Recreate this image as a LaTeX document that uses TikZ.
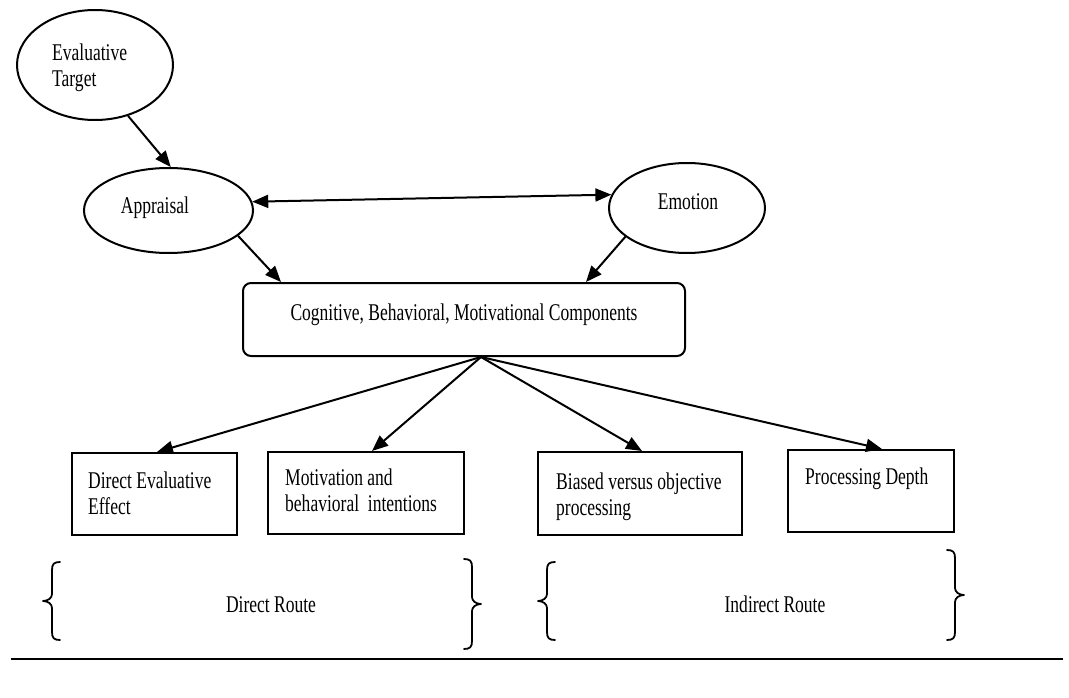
\documentclass[tikz,border=0pt]{standalone}
\usepackage{fontspec}
\setmainfont[FakeStretch=0.73]{Liberation Serif}
\usetikzlibrary{shapes.geometric,arrows.meta,calc}
\begin{document}
\begin{tikzpicture}[x=1pt,y=-1pt,
  ell/.style={ellipse,draw,line width=2pt,inner sep=0pt},
  rbox/.style={rectangle,draw,line width=2pt,inner sep=0pt},
  txt/.style={inner sep=0pt,font=\fontsize{24}{26}\selectfont,align=left},
  arr/.style={line width=2pt,-{Triangle[length=16pt,width=13pt]}},
  darr/.style={line width=2pt,{Triangle[length=16pt,width=13pt]}-{Triangle[length=16pt,width=13pt]}},
  brc/.style={line width=1.8pt,line cap=round,line join=round}]
\useasboundingbox (0,0) rectangle (1069,698);

% ellipses
\node[ell,minimum width=156pt,minimum height=110pt] (et) at (95,65) {};
\node[txt,anchor=north west] (etl) at (52,44) {Evaluative\\Target};
\node[ell,minimum width=169pt,minimum height=85pt] (ap) at (168.5,210.5) {};
\node[txt,anchor=base] (apl) at (155,214) {Appraisal};
\node[ell,minimum width=156pt,minimum height=90pt] (em) at (687,208) {};
\node[txt,anchor=base] (eml) at (688,209) {Emotion};

% main box
\node[rbox,rounded corners=8pt,minimum width=442pt,minimum height=73pt] (cb) at (464,319.5) {};
\node[txt,anchor=base] (cbl) at (464,320) {Cognitive, Behavioral, Motivational Components};

% outcome boxes
\node[rbox,minimum width=165pt,minimum height=82pt] (b1) at (154.5,494) {};
\node[txt,anchor=north west] (b1l) at (88,472) {Direct Evaluative\\Effect};
\node[rbox,minimum width=196pt,minimum height=82pt] (b2) at (366,493) {};
\node[txt,anchor=north west] (b2l) at (285,469) {Motivation and\\behavioral~ intentions};
\node[rbox,minimum width=204pt,minimum height=83pt] (b3) at (640,493.5) {};
\node[txt,anchor=north west] (b3l) at (556,473) {Biased versus objective\\processing};
\node[rbox,minimum width=166pt,minimum height=82pt] (b4) at (871,491) {};
\node[txt,anchor=north west] (b4l) at (805,468) {Processing Depth};

% connectors
\draw[arr] (et.-57) -- (ap.87);
\draw[darr] (ap.6) -- (em.170);
\draw[arr] (ap.-20) -- ($(cb.north west)+(39,0)$);
\draw[arr] (em.205) -- ($(cb.north east)+(-100,0)$);
\coordinate (hub) at ($(cb.south)+(17,0)$);
\draw[arr] (hub) -- ($(b1.north)+(2.5,0)$);
\draw[arr] (hub) -- ($(b2.north)+(6,0)$);
\draw[arr] (hub) -- ($(b3.north)+(2,0)$);
\draw[arr] (hub) -- ($(b4.north)+(11,0)$);

% routes
\node[txt,anchor=base] (dr) at (271,612) {Direct Route};
\node[txt,anchor=base] (ir) at (775,612) {Indirect Route};

\draw[brc] (60,562) .. controls (54,562) and (52,564) .. (52,570) -- (52,594) .. controls (52,598) and (48,601) .. (43,601) .. controls (48,601) and (52,604) .. (52,608) -- (52,632) .. controls (52,638) and (54,640) .. (60,640);
\draw[brc] (464,559) .. controls (470,559) and (472,561) .. (472,567) -- (472,597) .. controls (472,601) and (476,604) .. (481,604) .. controls (476,604) and (472,607) .. (472,611) -- (472,641) .. controls (472,647) and (470,649) .. (464,649);
\draw[brc] (555,562) .. controls (549,562) and (547,564) .. (547,570) -- (547,594) .. controls (547,598) and (543,601) .. (538,601) .. controls (543,601) and (547,604) .. (547,608) -- (547,632) .. controls (547,638) and (549,640) .. (555,640);
\draw[brc] (947,550) .. controls (953,550) and (955,552) .. (955,558) -- (955,588) .. controls (955,592) and (959,595) .. (964,595) .. controls (959,595) and (955,598) .. (955,602) -- (955,632) .. controls (955,638) and (953,640) .. (947,640);

\draw[line width=2.8pt] (11,659) -- (1063,659);
\end{tikzpicture}
\end{document}
